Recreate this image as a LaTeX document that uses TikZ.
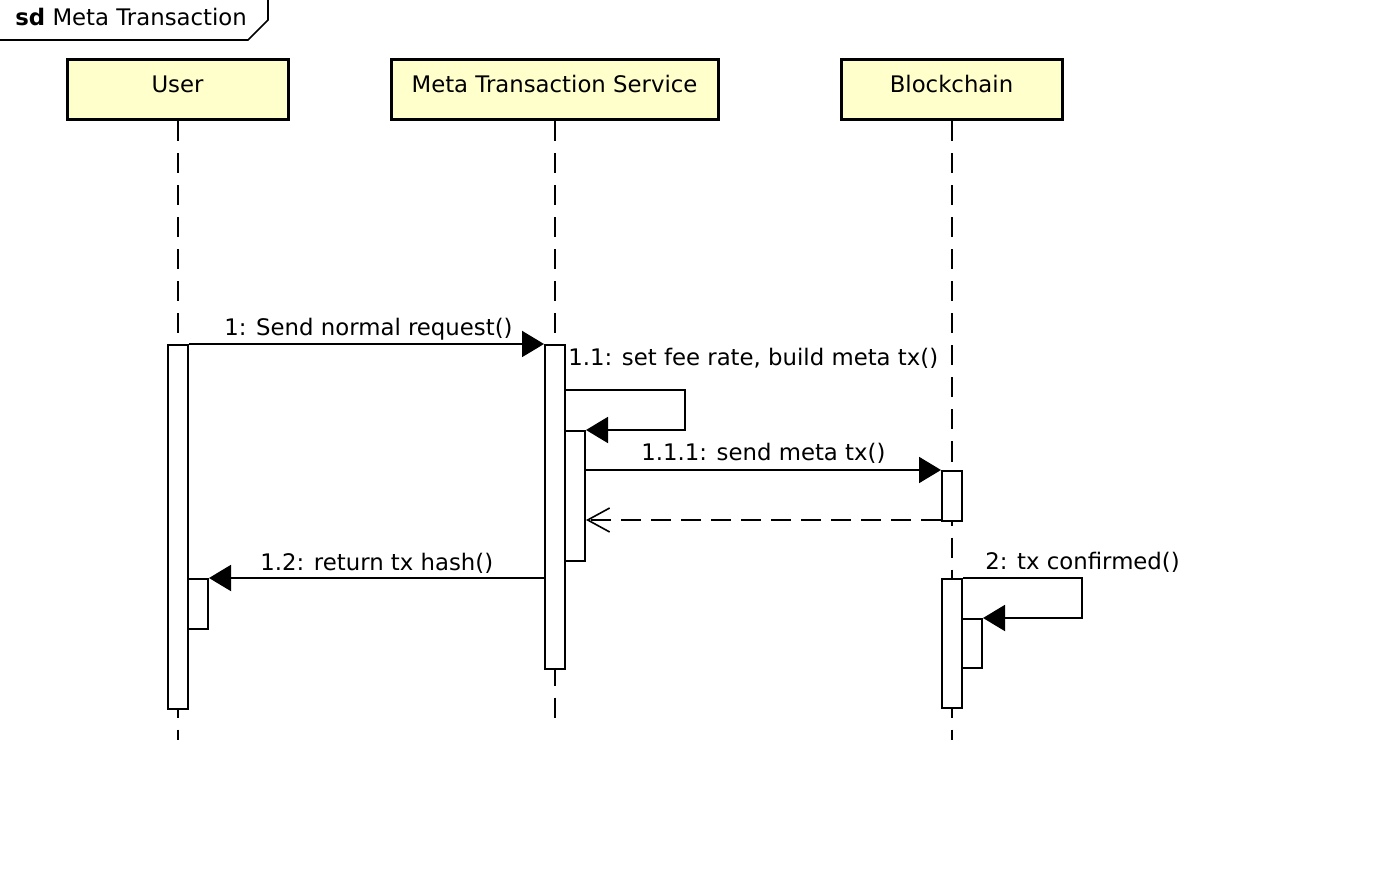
\documentclass[tikz,border=0pt]{standalone}
\usepackage{fontspec}
\setmainfont{DejaVu Sans}
\usetikzlibrary{arrows.meta,calc}
\definecolor{headfill}{HTML}{FFFFCC}
\tikzset{
  head/.style={draw, line width=1.5pt, fill=headfill, minimum width=110.5pt, minimum height=30pt, inner sep=0pt, text height=8.5pt, text depth=5.5pt, font=\fontsize{11.4}{13}\selectfont},
  act/.style={draw, line width=1pt, fill=white, minimum width=10pt, inner sep=0pt, anchor=north},
  lifeline/.style={line width=0.8pt, dash pattern=on 10pt off 6pt},
  msg/.style={line width=1pt, -{Triangle[length=11pt,width=13pt]}},
  ret/.style={line width=1pt, dash pattern=on 10pt off 5pt, -{Straight Barb[length=11pt,width=12pt,line width=0.8pt]}},
  lbl/.style={inner sep=0pt, anchor=base west, font=\fontsize{11.4}{13}\selectfont},
}
\begin{document}
\begin{tikzpicture}[x=0.5pt,y=-0.5pt]
\useasboundingbox (0,0) rectangle (1390,876);
% frame label
\draw[line width=0.8pt] (0,40) -- (248,40) -- (268,20) -- (268,0);
\node[lbl] (sd) at (15,26) {\textbf{sd} Meta Transaction};
% heads
\node[head] (user) at (177.5,90) {User};
\node[head, minimum width=163.5pt] (mts) at (554.5,90) {Meta Transaction Service};
\node[head] (bc) at (951.5,90) {Blockchain};
% lifeline ends
\coordinate (uend) at (178,740);
\coordinate (mend) at (555,720);
\coordinate (bend) at (952,740);
\draw[lifeline] (user.south -| uend) -- (uend);
\draw[lifeline] (mts.south -| mend) -- (mend);
\draw[lifeline] (bc.south -| bend) -- (bend);
% activations
\node[act, minimum height=182pt] (ua) at (178,344) {};
\node[act, minimum height=25pt] (ua2) at (198,578) {};
\node[act, minimum height=162pt] (ma) at (555,344) {};
\node[act, minimum height=65pt] (ma2) at (575,430) {};
\node[act, minimum height=25pt] (ba) at (952,470) {};
\node[act, minimum height=64.5pt] (bb) at (952,578) {};
\node[act, minimum height=24.5pt] (bb2) at (972,618) {};
% helper coordinates
\coordinate (y390) at (0,390);
\coordinate (y520) at (0,520);
\coordinate (y578) at (0,578);
\coordinate (s1x) at (685,0);
\coordinate (s2x) at (1082,0);
% messages
\draw[msg] (ua.north east) -- (ma.north west);
\node[lbl] (l1) at (224,336) {1: Send normal request()};
\draw[msg] (ma.east |- y390) -- (s1x |- y390) -- (s1x |- ma2.north) -- (ma2.north east);
\node[lbl] (l11) at (568,366) {1.1: set fee rate, build meta tx()};
\draw[msg] (ma2.east |- ba.north) -- (ba.north west);
\node[lbl] (l111) at (641,460) {1.1.1: send meta tx()};
\draw[ret] (ba.west |- y520) -- (ma2.east |- y520);
\draw[msg] (ma.west |- y578) -- (ua2.north east);
\node[lbl] (l12) at (260,570) {1.2: return tx hash()};
\draw[msg] (bb.north east) -- (s2x |- bb.north) -- (s2x |- bb2.north) -- (bb2.north east);
\node[lbl] (l2) at (985,569) {2: tx confirmed()};
\end{tikzpicture}
\end{document}
